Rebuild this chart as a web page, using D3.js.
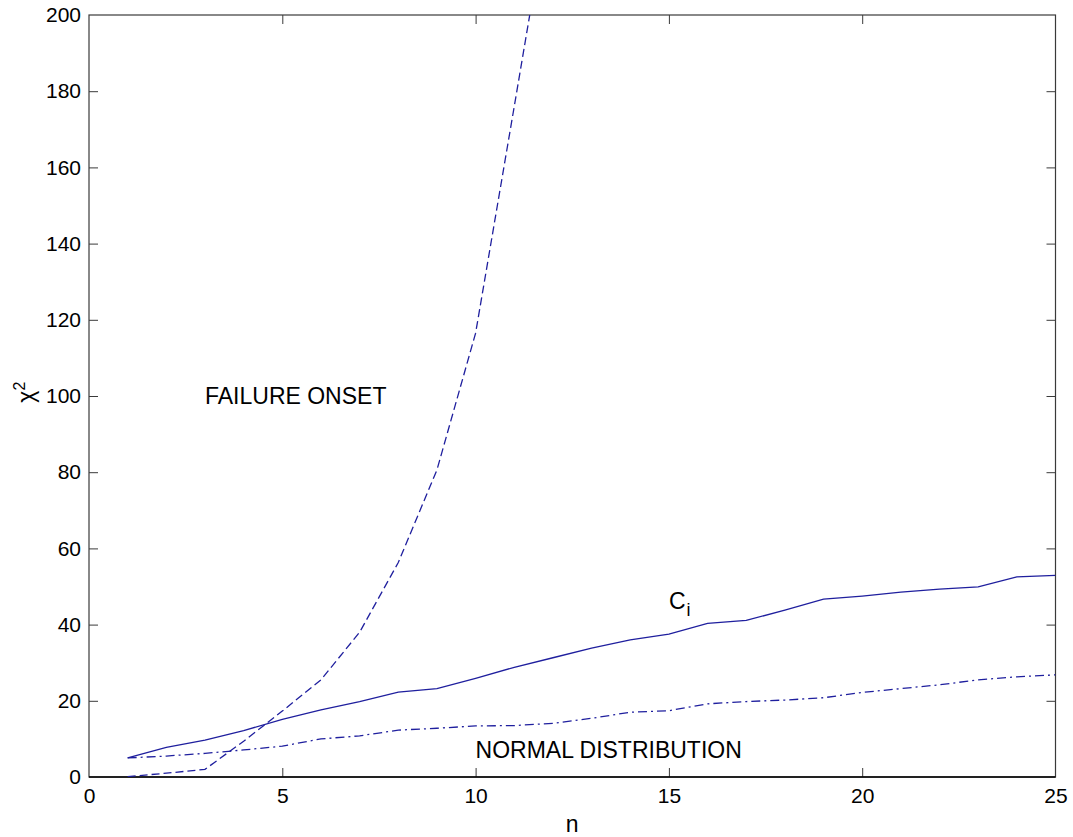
<!DOCTYPE html>
<html>
<head>
<meta charset="utf-8">
<script src="https://cdn.jsdelivr.net/npm/d3@7"></script>
<style>
  body { margin: 0; background: #fff; }
  text { font-family: "Liberation Sans", Arial, sans-serif; fill: #000; }
</style>
</head>
<body>
<svg width="1073" height="837"></svg>
<script>
// n values shared by all three curves
const nValues = [1, 2, 3, 4, 5, 6, 7, 8, 9, 10, 11, 12, 13, 14, 15, 16, 17, 18, 19, 20, 21, 22, 23, 24, 25];

// C_i curve (solid)
const ciValues = [5, 7.8, 9.7, 12.2, 15.1, 17.6, 19.8, 22.3, 23.2, 25.9, 28.8, 31.3, 33.8, 36.0, 37.5, 40.3, 41.1, 43.8, 46.7, 47.5, 48.5, 49.3, 49.9, 52.5, 52.9];

// normal distribution (dash-dot)
const normalValues = [5, 5.5, 6.2, 7.1, 8.1, 10.0, 10.8, 12.3, 12.8, 13.4, 13.5, 14.1, 15.4, 17.0, 17.4, 19.2, 19.8, 20.2, 20.8, 22.2, 23.2, 24.2, 25.5, 26.3, 26.8];

// failure onset (dashed), runs off the top of the plot
const failureN = [1, 2, 3, 4, 5, 6, 7, 8, 9, 10, 11, 12];
const failureValues = [0.1, 1.0, 2.0, 9.4, 17.3, 25.5, 38, 56.3, 80.6, 116.5, 176, 236];

const xTicks = [0, 5, 10, 15, 20, 25];
const yTicks = [0, 20, 40, 60, 80, 100, 120, 140, 160, 180, 200];

const svg = d3.select("svg");
const plotLeft = 89, plotRight = 1055.5, plotTop = 15, plotBottom = 777;

const x = d3.scaleLinear().domain([0, 25]).range([plotLeft, plotRight]);
const y = d3.scaleLinear().domain([0, 200]).range([plotBottom, plotTop]);

const lineColor = "#1f1f9e";
const axisColor = "#3a3a3a";

// clip the curves to the axes box
svg.append("defs").append("clipPath").attr("id", "plotClip")
  .append("rect")
  .attr("x", plotLeft).attr("y", plotTop)
  .attr("width", plotRight - plotLeft).attr("height", plotBottom - plotTop);

// axes: ticks pointing inwards on all four sides
const tickLen = 9;
const fmt = d3.format("d");

const xBottom = svg.append("g")
  .attr("transform", `translate(0,${plotBottom})`)
  .call(d3.axisBottom(x).tickValues(xTicks).tickSize(-tickLen).tickPadding(11).tickFormat(fmt));
const xTop = svg.append("g")
  .attr("transform", `translate(0,${plotTop})`)
  .call(d3.axisTop(x).tickValues(xTicks).tickSize(-tickLen).tickFormat(""));
const yLeft = svg.append("g")
  .attr("transform", `translate(${plotLeft},0)`)
  .call(d3.axisLeft(y).tickValues(yTicks).tickSize(-tickLen).tickPadding(8).tickFormat(fmt));
const yRight = svg.append("g")
  .attr("transform", `translate(${plotRight},0)`)
  .call(d3.axisRight(y).tickValues(yTicks).tickSize(-tickLen).tickFormat(""));

[xBottom, xTop, yLeft, yRight].forEach(g => {
  g.select(".domain").remove();
  g.selectAll(".tick line").attr("stroke", axisColor).attr("stroke-width", 1);
  g.selectAll(".tick text").style("font-size", "21px").attr("fill", "#000");
});
// ticks on the box corners would only overlap the frame
xBottom.selectAll(".tick line").filter(d => d === 0 || d === 25).remove();
xTop.selectAll(".tick line").filter(d => d === 0 || d === 25).remove();
yLeft.selectAll(".tick line").filter(d => d === 0 || d === 200).remove();
yRight.selectAll(".tick line").filter(d => d === 0 || d === 200).remove();

// box around the plot
svg.append("rect")
  .attr("x", plotLeft).attr("y", plotTop)
  .attr("width", plotRight - plotLeft).attr("height", plotBottom - plotTop)
  .attr("fill", "none")
  .attr("stroke", axisColor)
  .attr("stroke-width", 1.2);
svg.append("line")
  .attr("x1", plotLeft).attr("x2", plotRight).attr("y1", plotBottom).attr("y2", plotBottom)
  .attr("stroke", "#000").attr("stroke-width", 1.5);

// curves
const line = d3.line().x(d => x(d[0])).y(d => y(d[1]));
const curves = [
  { pts: d3.zip(nValues, ciValues), dash: null },
  { pts: d3.zip(nValues, normalValues), dash: "9,4,2,4" },
  { pts: d3.zip(failureN, failureValues), dash: "8,4" }
];

svg.append("g").attr("clip-path", "url(#plotClip)")
  .selectAll("path")
  .data(curves)
  .join("path")
  .attr("d", d => line(d.pts))
  .attr("fill", "none")
  .attr("stroke", lineColor)
  .attr("stroke-width", 1.3)
  .attr("stroke-dasharray", d => d.dash);

// annotations
svg.append("text")
  .attr("x", x(3)).attr("y", y(100))
  .attr("dy", "0.35em")
  .style("font-size", "23px")
  .text("FAILURE ONSET");

svg.append("text")
  .attr("x", x(10)).attr("y", y(7))
  .attr("dy", "0.35em")
  .style("font-size", "23px")
  .text("NORMAL DISTRIBUTION");

const ci = svg.append("text")
  .attr("x", x(15)).attr("y", y(46.2))
  .attr("dy", "0.35em")
  .style("font-size", "23px");
ci.append("tspan").text("C");
ci.append("tspan").attr("dy", "0.4em").attr("dx", "1").style("font-size", "18px").text("i");

// axis labels
svg.append("text")
  .attr("x", (plotLeft + plotRight) / 2).attr("y", 832)
  .attr("text-anchor", "middle")
  .style("font-size", "23px")
  .text("n");

const yl = svg.append("text")
  .attr("transform", `translate(34,${y(101)}) rotate(-90)`)
  .attr("text-anchor", "middle")
  .style("font-size", "23px");
yl.append("tspan").text("\u03c7");
yl.append("tspan").attr("dy", "-0.55em").style("font-size", "16px").text("2");
</script>
</body>
</html>
